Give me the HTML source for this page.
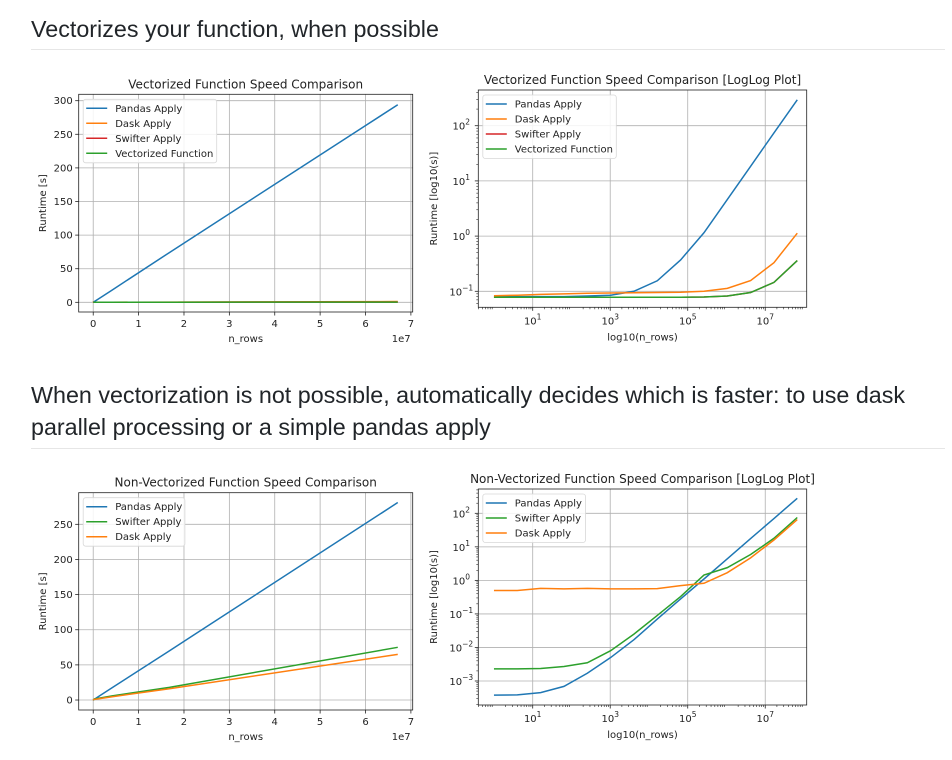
<!DOCTYPE html>
<html><head><meta charset="utf-8">
<style>
body{margin:0;background:#fff;width:952px;height:760px;overflow:hidden;position:relative;font-family:"Liberation Sans",sans-serif;}
.h{position:absolute;left:31px;color:#212529;font-size:23.3px;line-height:32px;}
.rule{position:absolute;left:31px;width:914px;height:1px;background:#e6e6e6;}
svg{position:absolute;left:0;top:0;}
svg text{font-family:"DejaVu Sans","Liberation Sans",sans-serif;fill:#222;}
</style></head><body>
<div class="h" style="top:13px">Vectorizes your function, when possible</div>
<div class="rule" style="top:49px"></div>
<div class="h" style="top:379px">When vectorization is not possible, automatically decides which is faster: to use dask<br>parallel processing or a simple pandas apply</div>
<div class="rule" style="top:448px"></div>
<svg id="s" width="952" height="760"></svg>
<script>
const nRows=[1,4,16,64,256,1024,4096,16384,65536,262144,1048576,4194304,16777216,67108864];
const vecPandas=[0.08,0.08,0.08,0.08,0.082,0.085,0.1,0.155,0.37,1.15,4.6,18.4,74,294];
const vecDask=[0.083,0.085,0.088,0.09,0.092,0.093,0.094,0.095,0.096,0.1,0.113,0.156,0.33,1.13];
const vecSwifter=[0.078,0.078,0.078,0.078,0.078,0.078,0.078,0.078,0.078,0.079,0.082,0.095,0.145,0.36];
const vecVectorized=[0.078,0.078,0.078,0.078,0.078,0.078,0.078,0.078,0.078,0.079,0.082,0.095,0.145,0.36];
const nvPandas=[3.8e-4,3.85e-4,4.5e-4,6.9e-4,1.7e-3,5e-3,0.017,0.07,0.28,1.1,4.4,17.6,70,281];
const nvSwifter=[2.3e-3,2.3e-3,2.35e-3,2.7e-3,3.5e-3,8e-3,0.025,0.09,0.33,1.44,2.4,5.9,18,75];
const nvDask=[0.5,0.5,0.58,0.56,0.58,0.56,0.56,0.57,0.7,0.82,1.7,4.7,16,65];
const linXTicks=[0,1,2,3,4,5,6,7];
const vecLinYTicks=[0,50,100,150,200,250,300];
const nvLinYTicks=[0,50,100,150,200,250];
const logXTicks=[1,3,5,7];
const vecLogYTicks=[-1,0,1,2];
const nvLogYTicks=[-3,-2,-1,0,1,2];

const C={blue:'#1f77b4',orange:'#ff7f0e',red:'#d62728',green:'#2ca02c'};
const svg=document.getElementById('s');
const NS='http://www.w3.org/2000/svg';
function mk(tag,attrs,parent){const e=document.createElementNS(NS,tag);for(const k in attrs)e.setAttribute(k,attrs[k]);(parent||svg).appendChild(e);return e;}
function txt(x,y,s,size,anchor,parent){const t=mk('text',{x:x,y:y,'font-size':size,'text-anchor':anchor||'middle'},parent);t.textContent=s;return t;}
function supLabel(x,y,exp,parent){const t=mk('text',{x:x,y:y,'font-size':10,'text-anchor':'middle'},parent);const a=document.createElementNS(NS,'tspan');a.textContent='10';t.appendChild(a);const b=document.createElementNS(NS,'tspan');b.setAttribute('dy','-5');b.setAttribute('font-size','7.5');b.textContent=exp<0?'\u2212'+(-exp):String(exp);t.appendChild(b);return t;}

function chart(o){
  const g=mk('g',{});
  
  
  const L=o.box[0],T=o.box[1],R=o.box[2],B=o.box[3];
  const sx=v=>{const u=o.log?Math.log10(v):v;return L+(u-o.xr[0])/(o.xr[1]-o.xr[0])*(R-L);};
  const sy=v=>{const u=o.log?Math.log10(v):v;return B-(u-o.yr[0])/(o.yr[1]-o.yr[0])*(B-T);};
  const sxu=u=>L+(u-o.xr[0])/(o.xr[1]-o.xr[0])*(R-L);
  const syu=u=>B-(u-o.yr[0])/(o.yr[1]-o.yr[0])*(B-T);
  o.xTicks.forEach(t=>{const x=sxu(t);
    const gl=mk('line',{x1:x,x2:x,y1:T,y2:B,stroke:'#b0b0b0','stroke-width':0.8},g);
    
    mk('line',{x1:x,x2:x,y1:B,y2:B+3.5,stroke:'#222','stroke-width':0.8},g);
    if(o.log){const lb=supLabel(x,B+17,t,g);}
    else{const lb=txt(x,B+15,String(t),10,'middle',g);}
  });
  o.yTicks.forEach(t=>{const y=syu(t);
    const gl=mk('line',{x1:L,x2:R,y1:y,y2:y,stroke:'#b0b0b0','stroke-width':0.8},g);
    
    mk('line',{x1:L-3.5,x2:L,y1:y,y2:y,stroke:'#222','stroke-width':0.8},g);
    if(o.log){const lb=supLabel(L-17,y+4,t,g);}
    else{const lb=txt(L-6,y+3.5,String(t),10,'end',g);}
  });
  if(o.log){
    for(let d=Math.floor(o.xr[0]);d<=o.xr[1];d++)for(let m=2;m<10;m++){const u=d+Math.log10(m);if(u<o.xr[0]||u>o.xr[1])continue;const x=sxu(u);mk('line',{x1:x,x2:x,y1:B,y2:B+2,stroke:'#222','stroke-width':0.6},g);}
    for(let d=Math.floor(o.yr[0]);d<=o.yr[1];d++)for(let m=2;m<10;m++){const u=d+Math.log10(m);if(u<o.yr[0]||u>o.yr[1])continue;const y=syu(u);mk('line',{x1:L-2,x2:L,y1:y,y2:y,stroke:'#222','stroke-width':0.6},g);}
  }
  const clip='c'+o.name;
  const cp=mk('clipPath',{id:clip},g);mk('rect',{x:L,y:T,width:R-L,height:B-T},cp);
  o.series.forEach(s=>{
    const d=nRows.map((n,i)=>(i?'L':'M')+sx(o.log?n:n/1e7).toFixed(2)+' '+sy(s.v[i]).toFixed(2)).join(' ');
    const p=mk('path',{d:d,fill:'none',stroke:s.c,'stroke-width':1.5,'clip-path':'url(#'+clip+')'},g);
    
    
  });
  mk('rect',{x:L,y:T,width:R-L,height:B-T,fill:'none',stroke:'#222','stroke-width':0.8},g);
  const tt=txt((L+R)/2,T-6,o.title,12,'middle',g);
  
  const xl=txt((L+R)/2,B+(o.log?33:30),o.xlabel,10,'middle',g);
  
  const yl=txt(0,0,o.ylabel,10,'middle',g);
  yl.setAttribute('transform','translate('+(o.ylx)+','+((T+B)/2)+') rotate(-90)');
  
  if(!o.log){const off=txt(R-2,B+30,'1e7',10,'end',g);}
  const lg=mk('g',{},g);
  
  
  const lx=L+4.5,ly=T+5,lw=o.legW,lh=o.series.length*15+3.5;
  mk('rect',{x:lx,y:ly,width:lw,height:lh,rx:2.5,fill:'#fff','fill-opacity':0.85,stroke:'#d8d8d8','stroke-width':0.8},lg);
  o.series.forEach((s,i)=>{const y=ly+9+i*15;
    const e=mk('g',{},lg);
    
    
    mk('line',{x1:lx+3,x2:lx+24,y1:y,y2:y,stroke:s.c,'stroke-width':1.5},e);
    txt(lx+32,y+3.5,s.label,10,'start',e);
  });
}

chart({name:'vectorized-linear-chart',box:[78.7,94.3,412.7,312],log:false,xr:[-0.32,7.04],yr:[-14.4,309.5],
  xTicks:linXTicks,yTicks:vecLinYTicks,title:'Vectorized Function Speed Comparison',xlabel:'n_rows',ylabel:'Runtime [s]',ylx:46,legW:133.5,
  series:[{key:'pandas-apply',label:'Pandas Apply',c:C.blue,v:vecPandas},{key:'dask-apply',label:'Dask Apply',c:C.orange,v:vecDask},{key:'swifter-apply',label:'Swifter Apply',c:C.red,v:vecSwifter},{key:'vectorized-function',label:'Vectorized Function',c:C.green,v:vecVectorized}]});
chart({name:'vectorized-loglog-chart',box:[478.3,90,806.7,307.3],log:true,xr:[-0.404,8.07],yr:[-1.29,2.647],
  xTicks:logXTicks,yTicks:vecLogYTicks,title:'Vectorized Function Speed Comparison [LogLog Plot]',xlabel:'log10(n_rows)',ylabel:'Runtime [log10(s)]',ylx:437,legW:133.5,
  series:[{key:'pandas-apply',label:'Pandas Apply',c:C.blue,v:vecPandas},{key:'dask-apply',label:'Dask Apply',c:C.orange,v:vecDask},{key:'swifter-apply',label:'Swifter Apply',c:C.red,v:vecSwifter},{key:'vectorized-function',label:'Vectorized Function',c:C.green,v:vecVectorized}]});
chart({name:'non-vectorized-linear-chart',box:[78.7,492.7,412.7,710],log:false,xr:[-0.32,7.04],yr:[-14.2,295],
  xTicks:linXTicks,yTicks:nvLinYTicks,title:'Non-Vectorized Function Speed Comparison',xlabel:'n_rows',ylabel:'Runtime [s]',ylx:46,legW:101.7,
  series:[{key:'pandas-apply',label:'Pandas Apply',c:C.blue,v:nvPandas},{key:'swifter-apply',label:'Swifter Apply',c:C.green,v:nvSwifter},{key:'dask-apply',label:'Dask Apply',c:C.orange,v:nvDask}]});
chart({name:'non-vectorized-loglog-chart',box:[478.3,489,806.7,705],log:true,xr:[-0.404,8.07],yr:[-3.716,2.725],
  xTicks:logXTicks,yTicks:nvLogYTicks,title:'Non-Vectorized Function Speed Comparison [LogLog Plot]',xlabel:'log10(n_rows)',ylabel:'Runtime [log10(s)]',ylx:437,legW:102.7,
  series:[{key:'pandas-apply',label:'Pandas Apply',c:C.blue,v:nvPandas},{key:'swifter-apply',label:'Swifter Apply',c:C.green,v:nvSwifter},{key:'dask-apply',label:'Dask Apply',c:C.orange,v:nvDask}]});
</script>
</body></html>
